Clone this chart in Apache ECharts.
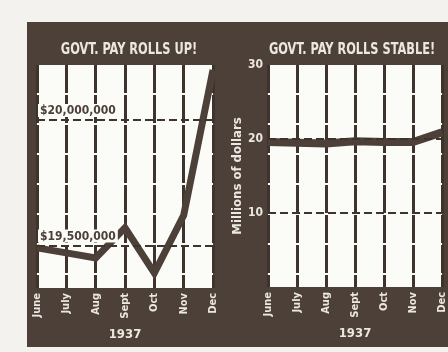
<!DOCTYPE html>
<html>
<head>
<meta charset="utf-8">
<script src="https://cdn.jsdelivr.net/npm/echarts@6/dist/echarts.min.js"></script>
<style>
  html, body { margin: 0; padding: 0; background: #f3f2ee; }
  #chart { width: 448px; height: 352px; }
</style>
</head>
<body>
<div id="chart"></div>
<script>
// Monthly government pay rolls, June–December 1937 (millions of dollars)
var months = ['June', 'July', 'Aug', 'Sept', 'Oct', 'Nov', 'Dec'];
var payrollUp = [19.49, 19.47, 19.45, 19.57, 19.39, 19.62, 20.2];
var payrollStable = [19.6, 19.5, 19.4, 19.7, 19.6, 19.6, 20.9];
var upRefLines = [20.0, 19.5];
var upRefLabels = ['$20,000,000', '$19,500,000'];
var stableRefLines = [20, 10];
var titles = ['GOVT. PAY ROLLS UP!', 'GOVT. PAY ROLLS STABLE!'];
var year = '1937';

var brown = '#4d4039';
var paper = '#fbfbf8';
var ink = '#ebe7e1';
var narrow = '"Liberation Sans Narrow", "DejaVu Sans Condensed", "Liberation Sans", sans-serif';

var chart = echarts.init(document.getElementById('chart'), null, { renderer: 'canvas' });

function xAxisFor(gridIndex) {
  return {
    type: 'category',
    gridIndex: gridIndex,
    data: months,
    boundaryGap: false,
    axisLine: { show: false },
    axisTick: { show: false },
    axisLabel: {
      rotate: 90, margin: 5, color: ink,
      fontFamily: narrow, fontWeight: 'bold', fontSize: 11
    },
    splitLine: { show: true, lineStyle: { color: '#3f332d', width: 3, type: [28, 2] } },
    name: year,
    nameLocation: 'middle',
    nameGap: 40,
    nameTextStyle: { color: ink, fontFamily: narrow, fontWeight: 'bold', fontSize: 13 }
  };
}

function refLine(values, labels) {
  return {
    silent: true,
    symbol: 'none',
    lineStyle: { color: '#3f332d', width: 2, type: [8, 4] },
    label: labels ? {
      show: true,
      position: 'insideStartTop',
      distance: [1, 3],
      formatter: function (p) { return labels[p.dataIndex]; },
      color: brown,
      backgroundColor: paper,
      padding: [1, 2, 0, 2],
      fontFamily: narrow, fontWeight: 'bold', fontSize: 12
    } : { show: false },
    data: values.map(function (v) { return { yAxis: v }; })
  };
}

// Panel titles, drawn in a condensed poster style
function titleText(text, cx) {
  return {
    type: 'text', x: cx, y: 50, scaleX: 0.79, z: 10,
    style: {
      text: text, fill: ink, align: 'center', verticalAlign: 'middle',
      font: 'bold 16px ' + narrow
    }
  };
}

chart.setOption({
  animation: false,
  backgroundColor: '#f3f2ee',
  graphic: [
    { type: 'rect', z: -10, shape: { x: 27, y: 22, width: 421, height: 325 }, style: { fill: brown } },
    titleText(titles[0], 129),
    titleText(titles[1], 352)
  ],
  grid: [
    { left: 37, top: 65, width: 176, height: 223, show: true, backgroundColor: paper, borderWidth: 0 },
    { left: 268, top: 65, width: 174, height: 222, show: true, backgroundColor: paper, borderWidth: 0 }
  ],
  xAxis: [xAxisFor(0), xAxisFor(1)],
  yAxis: [
    {
      type: 'value', gridIndex: 0, min: 19.33, max: 20.22,
      axisLine: { show: false }, axisTick: { show: false },
      axisLabel: { show: false }, splitLine: { show: false }
    },
    {
      type: 'value', gridIndex: 1, min: 0, max: 30, interval: 10,
      axisLine: { show: false }, axisTick: { show: false },
      axisLabel: {
        color: ink, fontFamily: narrow, fontWeight: 'bold', fontSize: 12, margin: 5,
        formatter: function (v) { return v === 0 ? '' : String(v); }
      },
      splitLine: { show: false },
      name: 'Millions of dollars',
      nameLocation: 'middle',
      nameGap: 22,
      nameRotate: 90,
      nameTextStyle: { color: ink, fontFamily: narrow, fontWeight: 'bold', fontSize: 13 }
    }
  ],
  series: [
    {
      type: 'line', xAxisIndex: 0, yAxisIndex: 0, data: payrollUp,
      symbol: 'none', lineStyle: { color: brown, width: 7, join: 'miter' },
      markLine: refLine(upRefLines, upRefLabels), z: 3
    },
    {
      type: 'line', xAxisIndex: 1, yAxisIndex: 1, data: payrollStable,
      symbol: 'none', lineStyle: { color: brown, width: 8 },
      markLine: refLine(stableRefLines, null), z: 3
    }
  ]
});
</script>
</body>
</html>
